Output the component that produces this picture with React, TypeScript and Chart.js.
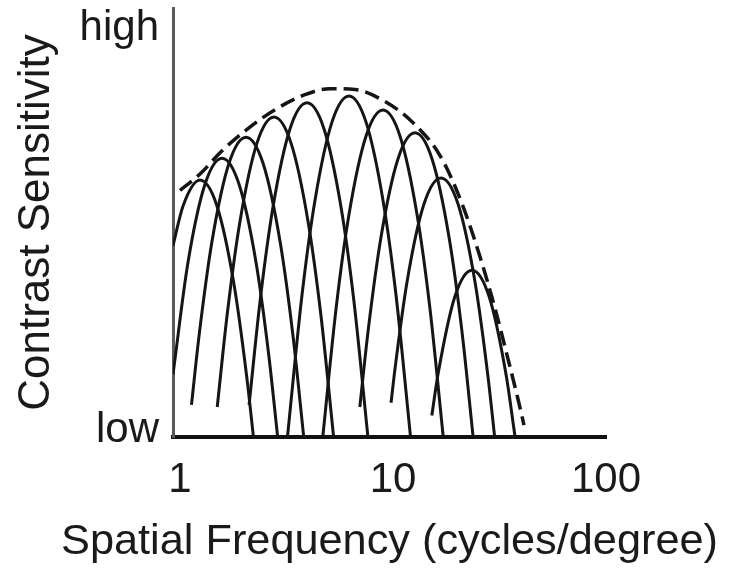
import React, { useEffect, useRef } from 'react';
import { Chart, registerables } from 'chart.js';

Chart.register(...registerables);

// Spatial-frequency channels: [frequency (c/deg), sensitivity (0 = low, 100 = high)]
const channel1: [number, number][] = [
  [0.927, 44.6], [1.0325, 53.8], [1.241, 59.9], [1.4925, 53.8], [1.794, 35.5], [2.06, 13.8], [2.212, 0],
];
const channel2: [number, number][] = [
  [0.927, 14.6], [1.0894, 40.6], [1.3098, 58.9], [1.5747, 65.0], [1.8933, 58.9], [2.276, 40.6], [2.613, 18.9], [2.874, 0],
];
const channel3: [number, number][] = [
  [1.132, 7.5], [1.23, 23.8], [1.4121, 45.5], [1.6979, 63.8], [2.0414, 69.9], [2.4541, 63.8], [2.9507, 45.5], [3.3878, 23.8], [3.8097, 0],
];
const channel4: [number, number][] = [
  [1.4956, 7], [1.6646, 28.5], [1.9112, 50.2], [2.2976, 68.5], [2.7626, 74.6], [3.3214, 68.5], [3.993, 50.2], [4.5843, 28.5], [5.2625, 0],
];
const channel5: [number, number][] = [
  [2.11, 7.5], [2.3779, 31.8], [2.7302, 53.5], [3.2825, 71.8], [3.9464, 77.9], [4.7445, 71.8], [5.705, 53.5], [6.5494, 31.8], [7.6262, 0],
];
const channel6: [number, number][] = [
  [3.1946, 0], [3.7447, 33.4], [4.2996, 55.1], [5.1688, 73.4], [6.2145, 79.5], [7.4716, 73.4], [8.9815, 55.1], [10.313, 33.4], [12.089, 0],
];
const channel7: [number, number][] = [
  [4.6797, 0], [5.4083, 30.1], [6.2102, 51.8], [7.4664, 70.1], [8.9752, 76.2], [10.791, 70.1], [12.974, 51.8], [14.898, 30.1], [17.218, 0],
];
const channel8: [number, number][] = [
  [6.986, 7], [7.6438, 24.8], [8.7773, 46.5], [10.551, 64.8], [12.685, 70.9], [15.251, 64.8], [18.336, 46.5], [21.053, 24.8], [23.78, 0],
];
const channel9: [number, number][] = [
  [9.7904, 8], [10.125, 14.3], [11.625, 36.0], [13.976, 54.3], [16.803, 60.4], [20.202, 54.3], [24.289, 36.0], [27.887, 14.3], [30.013, 0],
];
const channel10: [number, number][] = [
  [15.213, 5], [16.252, 14.5], [19.539, 32.8], [23.492, 38.9], [28.241, 32.8], [33.957, 14.5], [37.421, 0],
];
// Overall contrast sensitivity function (dashed envelope)
const envelope: [number, number][] = [
  [1.0, 57.5], [1.241, 61.3], [1.5578, 66.5], [2.0855, 71.9], [2.7925, 76.3], [3.8628, 79.8], [5.0606, 81.2],
  [6.6314, 81.0], [9.1704, 78.2], [12.28, 73.5], [16.623, 65.6], [21.083, 54.4], [25.616, 42.0], [30.124, 30.0],
  [34.665, 18.2], [38.628, 8.8], [41.208, 2.8],
];

const xTickValues = [1, 10, 100];
const yTickValues = [1.5, 95.2];
const yTickLabels = ['low', 'high'];

const FONT = "'Liberation Sans', Arial, Helvetica, sans-serif";

export default function App() {
  const ref = useRef<HTMLCanvasElement | null>(null);

  useEffect(() => {
    if (!ref.current) return;
    const channels = [channel1, channel2, channel3, channel4, channel5, channel6, channel7, channel8, channel9, channel10];
    const toPts = (a: [number, number][]) => a.map(([x, y]) => ({ x, y }));
    const datasets: any[] = channels.map((c, i) => ({
      label: `Channel ${i + 1}`,
      data: toPts(c),
      borderColor: '#151515',
      borderWidth: 3,
      pointRadius: 0,
      cubicInterpolationMode: 'monotone',
      fill: false,
    }));
    datasets.push({
      label: 'Envelope',
      data: toPts(envelope),
      borderColor: '#151515',
      borderWidth: 3.5,
      borderDash: [15, 7],
      pointRadius: 0,
      cubicInterpolationMode: 'monotone',
      fill: false,
    });

    const chart = new Chart(ref.current, {
      type: 'line',
      data: { datasets },
      options: {
        animation: false,
        responsive: true,
        maintainAspectRatio: false,
        layout: { padding: { top: 8, right: 15, left: 0, bottom: 0 } },
        plugins: {
          legend: { display: false },
          tooltip: { enabled: false },
          title: {
            display: true,
            position: 'bottom',
            align: 'end',
            fullSize: true,
            text: 'Spatial Frequency (cycles/degree)',
            color: '#1a1a1a',
            font: { family: FONT, size: 43.3, weight: 'normal', lineHeight: 1.2 },
            padding: { top: 0, bottom: 3 },
          },
        },
        scales: {
          x: {
            type: 'logarithmic',
            position: 'bottom',
            min: 0.927,
            max: 100,
            afterBuildTicks: (scale: any) => {
              scale.ticks = xTickValues.map((v) => ({ value: v }));
            },
            afterFit: (scale: any) => {
              scale.height = 79;
            },
            grid: { display: false, drawTicks: false },
            border: { display: true, color: '#111', width: 4 },
            ticks: {
              autoSkip: false,
              maxRotation: 0,
              padding: 18,
              color: '#1a1a1a',
              font: { family: FONT, size: 42 },
              callback: (v: any) => String(v),
            },
          },
          y: {
            type: 'linear',
            position: 'left',
            min: 0,
            max: 100,
            afterBuildTicks: (scale: any) => {
              scale.ticks = yTickValues.map((v) => ({ value: v }));
            },
            afterFit: (scale: any) => {
              scale.width = 173;
            },
            grid: { display: false, drawTicks: true, tickLength: 14 },
            border: { display: true, color: '#5a5a5a', width: 3 },
            ticks: {
              autoSkip: false,
              padding: 0,
              color: '#1a1a1a',
              font: { family: FONT, size: 42, lineHeight: 0.3 },
              callback: (v: any) => {
                const i = yTickValues.indexOf(Number(v));
                return i >= 0 ? yTickLabels[i] : '';
              },
            },
            title: {
              display: true,
              text: 'Contrast Sensitivity',
              color: '#1a1a1a',
              font: { family: FONT, size: 44 },
              padding: { top: 10, bottom: 0 },
            },
          },
          yRight: {
            type: 'linear',
            position: 'right',
            display: true,
            min: 0,
            max: 100,
            afterFit: (scale: any) => {
              scale.width = 112;
            },
            grid: { display: false, drawTicks: false },
            border: { display: false },
            ticks: { display: false },
          },
        },
      },
    });
    return () => chart.destroy();
  }, []);

  return (
    <div style={{ position: 'fixed', left: 0, top: 0, width: 733, height: 571, background: '#fff' }}>
      <canvas ref={ref} />
    </div>
  );
}
